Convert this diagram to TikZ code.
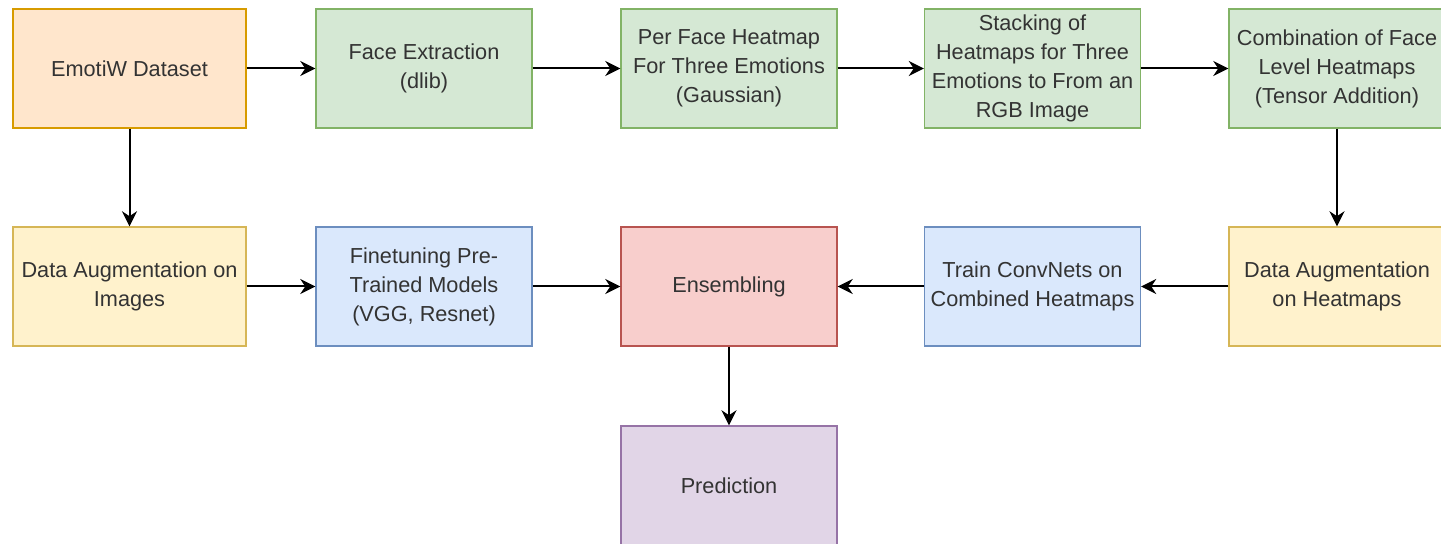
\documentclass[tikz,border=0pt]{standalone}
\usepackage{fontspec}
\setmainfont{Liberation Sans}
\usetikzlibrary{arrows.meta}

\definecolor{textgray}{HTML}{333333}
\definecolor{orangefill}{HTML}{FFE6CC}\definecolor{orangeline}{HTML}{D79B00}
\definecolor{greenfill}{HTML}{D5E8D4}\definecolor{greenline}{HTML}{82B366}
\definecolor{yellowfill}{HTML}{FFF2CC}\definecolor{yellowline}{HTML}{D6B656}
\definecolor{bluefill}{HTML}{DAE8FC}\definecolor{blueline}{HTML}{6C8EBF}
\definecolor{redfill}{HTML}{F8CECC}\definecolor{redline}{HTML}{B85450}
\definecolor{purplefill}{HTML}{E1D5E7}\definecolor{purpleline}{HTML}{9673A6}

\begin{document}
\begin{tikzpicture}[x={(0.5pt,0pt)}, y={(0pt,-0.5pt)},
    box/.style={rectangle, line width=0.7pt, minimum width=108pt, minimum height=59.5pt,
      inner sep=1pt, align=center, text=textgray, font=\fontsize{10.85}{14.5}\selectfont},
    widebox/.style={box, minimum width=116.5pt},
    orangebox/.style={box, fill=orangefill, draw=orangeline},
    greenbox/.style={box, fill=greenfill, draw=greenline},
    yellowbox/.style={box, fill=yellowfill, draw=yellowline},
    bluebox/.style={box, fill=bluefill, draw=blueline},
    redbox/.style={box, fill=redfill, draw=redline},
    purplebox/.style={box, fill=purplefill, draw=purpleline},
    flow/.style={-{Stealth[length=7.5pt,width=7.5pt]}, line width=1pt, black}]
    \clip (0,0) rectangle (1441,544);

    % first row
    \node[orangebox, widebox] (dataset) at (129.5, 68.5) {EmotiW Dataset};
    \node[greenbox] (face) at (424, 68.5) {Face Extraction\\(dlib)};
    \node[greenbox] (heat) at (729, 68.5) {Per Face Heatmap\\For Three Emotions\\(Gaussian)};
    \node[greenbox] (stack) at (1032.5, 68.5) {Stacking of\\Heatmaps for Three\\Emotions to From an\\RGB Image};
    \node[greenbox] (combine) at (1337, 68.5) {Combination of Face\\Level Heatmaps\\(Tensor Addition)};

    % second row
    \node[yellowbox, widebox] (augimg) at (129.5, 286.5) {Data Augmentation on\\Images};
    \node[bluebox] (finetune) at (424, 286.5) {Finetuning Pre-\\Trained Models\\(VGG, Resnet)};
    \node[redbox] (ensemble) at (729, 286.5) {Ensembling};
    \node[bluebox] (train) at (1032.5, 286.5) {Train ConvNets on\\Combined Heatmaps};
    \node[yellowbox] (augheat) at (1337, 286.5) {Data Augmentation\\on Heatmaps};

    % third row
    \node[purplebox] (predict) at (729, 485.5) {Prediction};

    \draw[flow] (dataset) -- (face);
    \draw[flow] (face) -- (heat);
    \draw[flow] (heat) -- (stack);
    \draw[flow] (stack) -- (combine);
    \draw[flow] (combine) -- (augheat);
    \draw[flow] (augheat) -- (train);
    \draw[flow] (train) -- (ensemble);
    \draw[flow] (dataset) -- (augimg);
    \draw[flow] (augimg) -- (finetune);
    \draw[flow] (finetune) -- (ensemble);
    \draw[flow] (ensemble) -- (predict);
\end{tikzpicture}
\end{document}
